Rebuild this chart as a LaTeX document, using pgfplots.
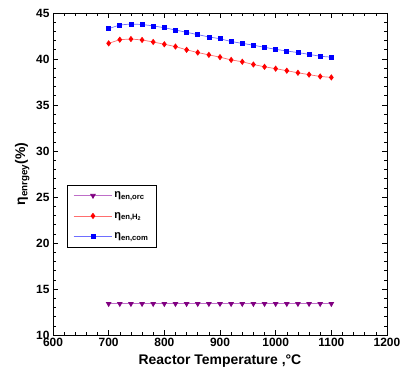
\documentclass[border=0pt]{standalone}
\usepackage{pgfplots}
\pgfplotsset{compat=1.18}
\usepackage{fontspec}
\setmainfont{Liberation Sans}
\definecolor{mpurple}{RGB}{128,0,128}
\definecolor{lpurple}{RGB}{190,110,200}
\definecolor{lred}{RGB}{255,110,110}
\definecolor{lblue}{RGB}{110,110,255}
\begin{document}
\begin{tikzpicture}
\begin{axis}[
  name=ax,
  width=334bp, height=322bp, scale only axis,
  xmin=600, xmax=1200, ymin=10, ymax=45,
  xtick={600,700,...,1200}, ytick={10,15,...,45},
  minor x tick num=4, minor y tick num=4,
  tick align=inside,
  major tick length=5bp, minor tick length=3bp,
  tick style={black, line width=0.6pt},
  axis line style={line width=0.8pt},
  xticklabel={\pgfmathtruncatemacro\tmpv{\tick}\textbf{\tmpv}},
  yticklabel={\pgfmathtruncatemacro\tmpv{\tick}\textbf{\tmpv}},
  tick label style={font=\bfseries\fontsize{12}{14}\selectfont},
  xlabel={\bfseries Reactor Temperature ,°C},
  ylabel={\bfseries η\textsubscript{enrgey}(\%)},
  xlabel style={font=\bfseries\fontsize{14}{16}\selectfont, yshift=-1bp},
  ylabel style={font=\bfseries\fontsize{14}{16}\selectfont, yshift=0bp},
  legend style={at={(rel axis cs:0.042,0.467)}, anchor=north west, draw=black, line width=0.6pt,
    font=\bfseries\fontsize{11}{13}\selectfont, row sep=9pt, inner xsep=6pt, inner ysep=5pt},
  legend cell align=left,
  legend image code/.code={\draw[#1] (0cm,0cm) -- (1.35cm,0cm); \draw[#1, only marks] plot coordinates {(0.68cm,0cm)};},
]
\addplot[color=lpurple, line width=0.8pt, mark=triangle*, mark size=2.6pt,
  mark options={rotate=180, fill=mpurple, draw=mpurple}] coordinates {
(700,13.4)(720,13.4)(740,13.4)(760,13.4)(780,13.4)(800,13.4)(820,13.4)(840,13.4)(860,13.4)(880,13.4)(900,13.4)
(920,13.4)(940,13.4)(960,13.4)(980,13.4)(1000,13.4)(1020,13.4)(1040,13.4)(1060,13.4)(1080,13.4)(1100,13.4)};
\addlegendentry{η\textsubscript{en,orc}}
\addplot[color=lred, line width=0.7pt, mark=diamond*, mark size=2.6pt,
  mark options={fill=red, draw=red}] coordinates {
(700,41.7)(720,42.1)(740,42.17)(760,42.07)(780,41.85)(800,41.6)(820,41.35)(840,41.0)(860,40.7)(880,40.45)(900,40.2)
(920,39.9)(940,39.7)(960,39.4)(980,39.15)(1000,38.95)(1020,38.73)(1040,38.5)(1060,38.3)(1080,38.1)(1100,38.0)};
\addlegendentry{η\textsubscript{en,H\textsubscript{2}}}
\addplot[color=lblue, line width=0.7pt, mark=square*, mark size=2pt,
  mark options={fill=blue, draw=blue}] coordinates {
(700,43.3)(720,43.7)(740,43.8)(760,43.75)(780,43.6)(800,43.4)(820,43.15)(840,42.9)(860,42.65)(880,42.4)(900,42.2)
(920,41.9)(940,41.7)(960,41.5)(980,41.27)(1000,41.05)(1020,40.87)(1040,40.7)(1060,40.5)(1080,40.3)(1100,40.2)};
\addlegendentry{η\textsubscript{en,com}}
\end{axis}
\pgfresetboundingbox
\path ([shift={(-53bp,-46bp)}]ax.south west) rectangle ([shift={(14bp,13bp)}]ax.north east);
\end{tikzpicture}
\end{document}
